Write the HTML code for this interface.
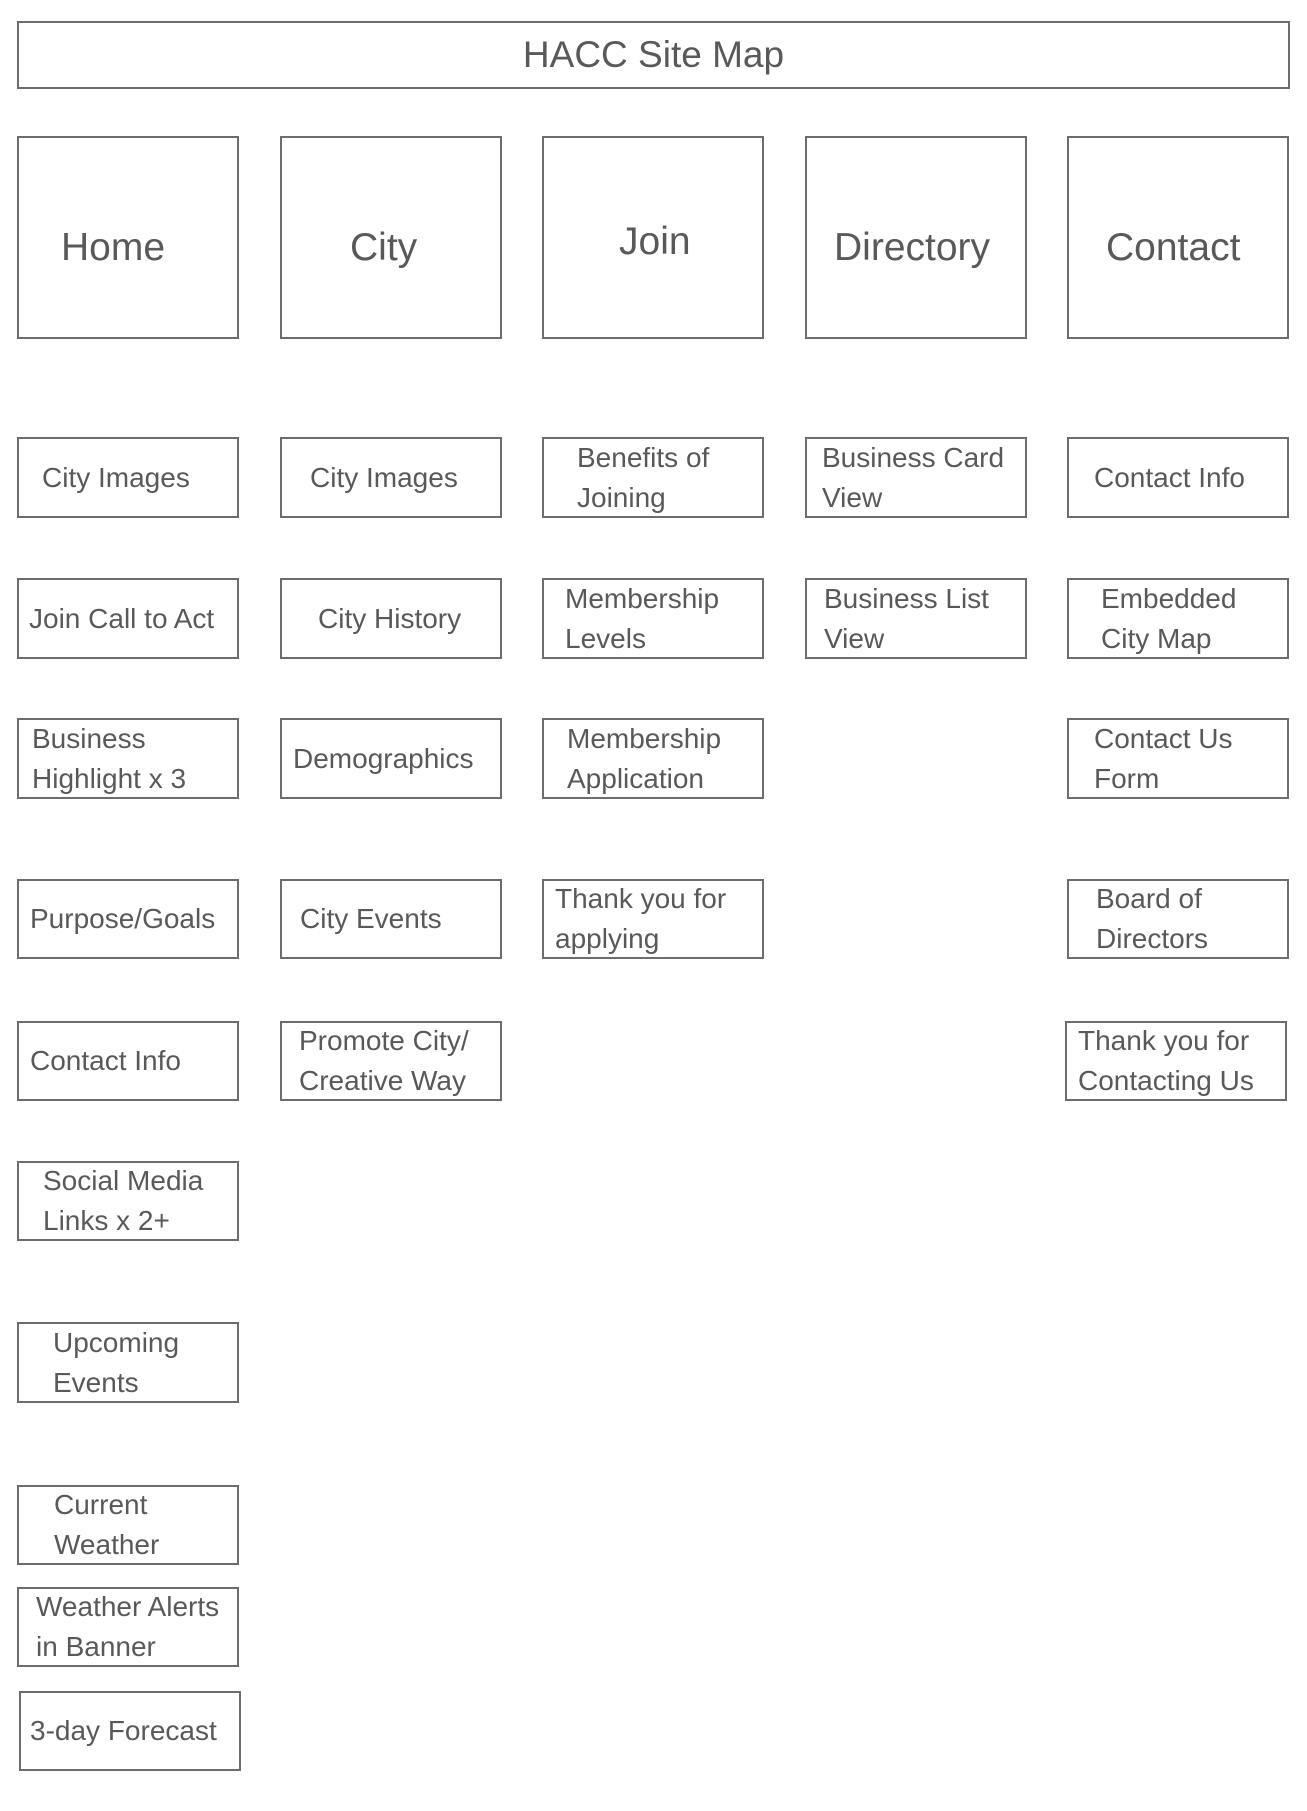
<!DOCTYPE html>
<html><head><meta charset="utf-8"><style>
body{margin:0;width:1307px;height:1811px;background:#fff;position:relative;overflow:hidden;font-family:"Liberation Sans","DejaVu Sans",sans-serif;color:#595959}
.b{position:absolute;border:2px solid #6d6d6d;box-sizing:border-box;display:flex;flex-direction:column;justify-content:center;font-size:28px;line-height:40px;white-space:nowrap}
.t{font-size:38px;align-items:center}
.h{font-size:39px;padding-top:20px}
</style></head><body>
<div class="b t" style="left:17px;top:21px;width:1273px;height:68px;font-size:37px">HACC Site Map</div>

<div class="b h" style="left:17px;top:136px;width:222px;height:203px;padding-left:42px">Home</div>
<div class="b h" style="left:280px;top:136px;width:222px;height:203px;padding-left:68px">City</div>
<div class="b h" style="left:542px;top:136px;width:222px;height:203px;padding-left:75px;padding-top:8px">Join</div>
<div class="b h" style="left:805px;top:136px;width:222px;height:203px;padding-left:27px">Directory</div>
<div class="b h" style="left:1067px;top:136px;width:222px;height:203px;padding-left:37px">Contact</div>

<!-- Home column -->
<div class="b" style="left:17px;top:437px;width:222px;height:81px;padding-left:23px">City Images</div>
<div class="b" style="left:17px;top:578px;width:222px;height:81px;padding-left:10px">Join Call to Act</div>
<div class="b" style="left:17px;top:718px;width:222px;height:81px;padding-left:13px">Business<br>Highlight x 3</div>
<div class="b" style="left:17px;top:879px;width:222px;height:80px;padding-left:11px">Purpose/Goals</div>
<div class="b" style="left:17px;top:1021px;width:222px;height:80px;padding-left:11px">Contact Info</div>
<div class="b" style="left:17px;top:1161px;width:222px;height:80px;padding-left:24px">Social Media<br>Links x 2+</div>
<div class="b" style="left:17px;top:1322px;width:222px;height:81px;padding-left:34px">Upcoming<br>Events</div>
<div class="b" style="left:17px;top:1485px;width:222px;height:80px;padding-left:35px">Current<br>Weather</div>
<div class="b" style="left:17px;top:1587px;width:222px;height:80px;padding-left:17px">Weather Alerts<br>in Banner</div>
<div class="b" style="left:19px;top:1691px;width:222px;height:80px;padding-left:9px">3-day Forecast</div>

<!-- City column -->
<div class="b" style="left:280px;top:437px;width:222px;height:81px;padding-left:28px">City Images</div>
<div class="b" style="left:280px;top:578px;width:222px;height:81px;padding-left:36px">City History</div>
<div class="b" style="left:280px;top:718px;width:222px;height:81px;padding-left:11px">Demographics</div>
<div class="b" style="left:280px;top:879px;width:222px;height:80px;padding-left:18px">City Events</div>
<div class="b" style="left:280px;top:1021px;width:222px;height:80px;padding-left:17px">Promote City/<br>Creative Way</div>

<!-- Join column -->
<div class="b" style="left:542px;top:437px;width:222px;height:81px;padding-left:33px">Benefits of<br>Joining</div>
<div class="b" style="left:542px;top:578px;width:222px;height:81px;padding-left:21px">Membership<br>Levels</div>
<div class="b" style="left:542px;top:718px;width:222px;height:81px;padding-left:23px">Membership<br>Application</div>
<div class="b" style="left:542px;top:879px;width:222px;height:80px;padding-left:11px">Thank you for<br>applying</div>

<!-- Directory column -->
<div class="b" style="left:805px;top:437px;width:222px;height:81px;padding-left:15px">Business Card<br>View</div>
<div class="b" style="left:805px;top:578px;width:222px;height:81px;padding-left:17px">Business List<br>View</div>

<!-- Contact column -->
<div class="b" style="left:1067px;top:437px;width:222px;height:81px;padding-left:25px">Contact Info</div>
<div class="b" style="left:1067px;top:578px;width:222px;height:81px;padding-left:32px">Embedded<br>City Map</div>
<div class="b" style="left:1067px;top:718px;width:222px;height:81px;padding-left:25px">Contact Us<br>Form</div>
<div class="b" style="left:1067px;top:879px;width:222px;height:80px;padding-left:27px">Board of<br>Directors</div>
<div class="b" style="left:1065px;top:1021px;width:222px;height:80px;padding-left:11px">Thank you for<br>Contacting Us</div>
</body></html>
